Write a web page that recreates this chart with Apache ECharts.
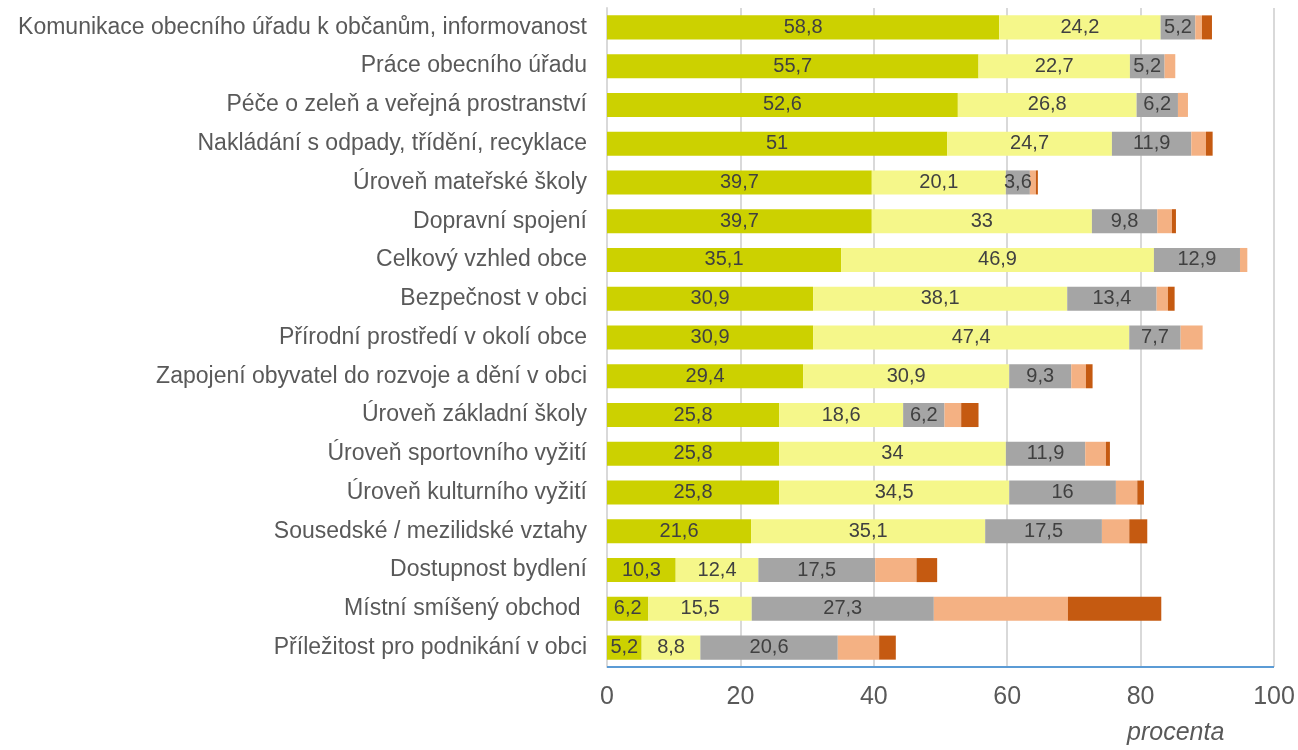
<!DOCTYPE html>
<html>
<head>
<meta charset="utf-8">
<script src="https://cdn.jsdelivr.net/npm/echarts@6/dist/echarts.min.js"></script>
<style>
  html, body { margin: 0; padding: 0; background: #fff; }
  #chart { width: 1298px; height: 750px; }
</style>
</head>
<body>
<div id="chart"></div>
<script>
const categories = [
  'Komunikace obecního úřadu k občanům, informovanost',
  'Práce obecního úřadu',
  'Péče o zeleň a veřejná prostranství',
  'Nakládání s odpady, třídění, recyklace',
  'Úroveň mateřské školy',
  'Dopravní spojení',
  'Celkový vzhled obce',
  'Bezpečnost v obci',
  'Přírodní prostředí v okolí obce',
  'Zapojení obyvatel do rozvoje a dění v obci',
  'Úroveň základní školy',
  'Úroveň sportovního vyžití',
  'Úroveň kulturního vyžití',
  'Sousedské / mezilidské vztahy',
  'Dostupnost bydlení',
  'Místní smíšený obchod ',
  'Příležitost pro podnikání v obci'
];

// five answer levels, from best to worst (values in %)
const level1 = [58.8, 55.7, 52.6, 51, 39.7, 39.7, 35.1, 30.9, 30.9, 29.4, 25.8, 25.8, 25.8, 21.6, 10.3, 6.2, 5.2];
const level2 = [24.2, 22.7, 26.8, 24.7, 20.1, 33, 46.9, 38.1, 47.4, 30.9, 18.6, 34, 34.5, 35.1, 12.4, 15.5, 8.8];
const level3 = [5.2, 5.2, 6.2, 11.9, 3.6, 9.8, 12.9, 13.4, 7.7, 9.3, 6.2, 11.9, 16, 17.5, 17.5, 27.3, 20.6];
const level4 = [1.0, 1.6, 1.5, 2.2, 0.9, 2.2, 1.1, 1.7, 3.3, 2.2, 2.5, 3.1, 3.2, 4.1, 6.2, 20.1, 6.2];
const level5 = [1.5, 0, 0, 1.0, 0.3, 0.6, 0, 1.0, 0, 1.0, 2.6, 0.6, 1.0, 2.7, 3.1, 14.0, 2.5];

const xTicks = [0, 20, 40, 60, 80, 100];

const colors = ['#CCD100', '#F5F78A', '#A5A5A5', '#F4B183', '#C55A11'];
const font = 'Liberation Sans, Arial, sans-serif';

const chart = echarts.init(document.getElementById('chart'));

function seriesFor(data, idx, withLabel) {
  return {
    type: 'bar',
    stack: 'total',
    data: data,
    barCategoryGap: '38%',
    itemStyle: { color: colors[idx] },
    label: {
      show: withLabel,
      position: 'inside',
      color: '#404040',
      fontSize: 20,
      fontFamily: font,
      formatter: p => String(p.value).replace('.', ',')
    },
    emphasis: { disabled: true }
  };
}

chart.setOption({
  animation: false,
  grid: { left: 607, right: 24, top: 8, bottom: 83, containLabel: false },
  xAxis: {
    type: 'value',
    min: xTicks[0],
    max: xTicks[xTicks.length - 1],
    interval: 20,
    axisLine: { show: false },
    axisTick: { show: false },
    splitLine: { lineStyle: { color: '#d9d9d9', width: 2 } },
    axisLabel: {
      color: '#595959',
      fontSize: 25,
      margin: 18,
      fontFamily: font
    }
  },
  yAxis: {
    type: 'category',
    data: categories,
    inverse: true,
    axisTick: { show: false },
    axisLine: { show: true, lineStyle: { color: '#d9d9d9', width: 2 } },
    axisLabel: {
      color: '#595959',
      fontSize: 23,
      margin: 20,
      fontFamily: font
    }
  },
  graphic: [
    {
      type: 'line',
      shape: { x1: 607, y1: 667, x2: 1274, y2: 667 },
      style: { stroke: '#5B9BD5', lineWidth: 2 },
      z: 100
    },
    {
      type: 'text',
      left: 1127,
      top: 721,
      style: {
        text: 'procenta',
        fill: '#595959',
        font: 'italic 25px "Liberation Sans", Arial, sans-serif'
      }
    }
  ],
  series: [
    seriesFor(level1, 0, true),
    seriesFor(level2, 1, true),
    seriesFor(level3, 2, true),
    seriesFor(level4, 3, false),
    seriesFor(level5, 4, false)
  ]
});
</script>
</body>
</html>
